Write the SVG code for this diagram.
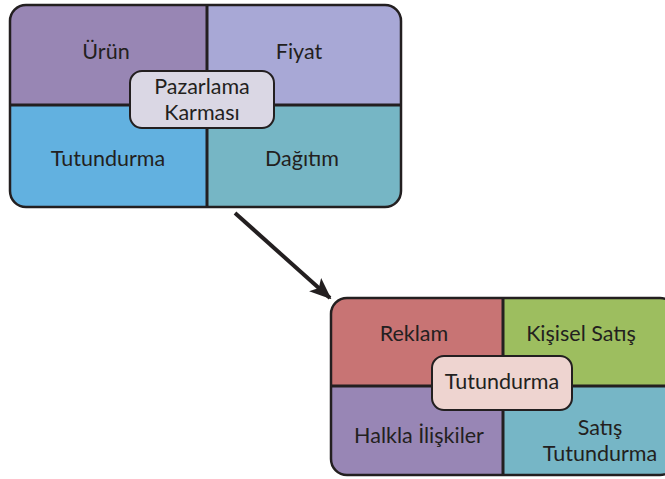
<svg xmlns="http://www.w3.org/2000/svg" width="665" height="479" viewBox="0 0 665 479">
  <defs>
    <style>
      .lbl { font-family: Lato, "Open Sans", "DejaVu Sans", sans-serif; font-size: 21.5px; fill: #231f20; text-anchor: middle; }
      .div { stroke: #231f20; stroke-width: 3; fill: none; }
      .frame { fill: none; stroke: #231f20; stroke-width: 2.5; }
      .hub { stroke: #231f20; stroke-width: 2; }
      .conn { stroke: #231f20; stroke-width: 4; fill: none; }
    </style>
    <clipPath id="clipMix">
      <rect x="10" y="5" width="391" height="202" rx="16"/>
    </clipPath>
    <clipPath id="clipPromo">
      <rect x="331" y="298" width="345" height="177" rx="16"/>
    </clipPath>
    <marker id="arrow" markerWidth="22" markerHeight="18" refX="20" refY="9" orient="auto" markerUnits="userSpaceOnUse" viewBox="0 0 22 18">
      <path d="M0,0 L22,9 L0,18 L5,9 Z" fill="#231f20"/>
    </marker>
  </defs>

  <!-- Marketing mix block -->
  <g id="marketing-mix">
    <g clip-path="url(#clipMix)">
      <rect x="10" y="5" width="197" height="100" fill="#9886b4"/>
      <rect x="207" y="5" width="194" height="100" fill="#a8a8d6"/>
      <rect x="10" y="105" width="197" height="102" fill="#62b1e0"/>
      <rect x="207" y="105" width="194" height="102" fill="#76b6c5"/>
    </g>
    <line class="div" x1="207" y1="5" x2="207" y2="207"/>
    <line class="div" x1="10" y1="105" x2="401" y2="105"/>
    <rect class="frame" x="10" y="5" width="391" height="202" rx="16"/>
  </g>
  <g id="urun"><text class="lbl" x="106" y="59">Ürün</text></g>
  <g id="fiyat"><text class="lbl" x="299" y="59">Fiyat</text></g>
  <g id="tutundurma-mix"><text class="lbl" x="108" y="166">Tutundurma</text></g>
  <g id="dagitim"><text class="lbl" x="302" y="166">Dağıtım</text></g>
  <g id="pazarlama-karmasi">
    <rect class="hub" x="130" y="71" width="144" height="57" rx="12" fill="#dad7e4"/>
    <text class="lbl" x="202" y="94">Pazarlama</text>
    <text class="lbl" x="202" y="120">Karması</text>
  </g>

  <!-- Connectors -->
  <g id="connectors">
    <line class="conn" x1="235" y1="213" x2="330" y2="298" marker-end="url(#arrow)"/>
  </g>

  <!-- Promotion block -->
  <g id="promotion">
    <g clip-path="url(#clipPromo)">
      <rect x="331" y="298" width="172" height="88" fill="#c87474"/>
      <rect x="503" y="298" width="173" height="88" fill="#9dbe5f"/>
      <rect x="331" y="386" width="172" height="89" fill="#9886b5"/>
      <rect x="503" y="386" width="173" height="89" fill="#76b6c6"/>
    </g>
    <line class="div" x1="503" y1="298" x2="503" y2="475"/>
    <line class="div" x1="331" y1="386" x2="676" y2="386"/>
    <rect class="frame" x="331" y="298" width="345" height="177" rx="16"/>
  </g>
  <g id="reklam"><text class="lbl" x="414" y="341">Reklam</text></g>
  <g id="kisisel-satis"><text class="lbl" x="581" y="341">Kişisel Satış</text></g>
  <g id="halkla-iliskiler"><text class="lbl" x="419" y="443">Halkla İlişkiler</text></g>
  <g id="satis-tutundurma">
    <text class="lbl" x="600" y="435">Satış</text>
    <text class="lbl" x="600" y="461">Tutundurma</text>
  </g>
  <g id="tutundurma">
    <rect class="hub" x="432" y="356" width="140" height="54" rx="12" fill="#eed4d0"/>
    <text class="lbl" x="502" y="389">Tutundurma</text>
  </g>
</svg>
